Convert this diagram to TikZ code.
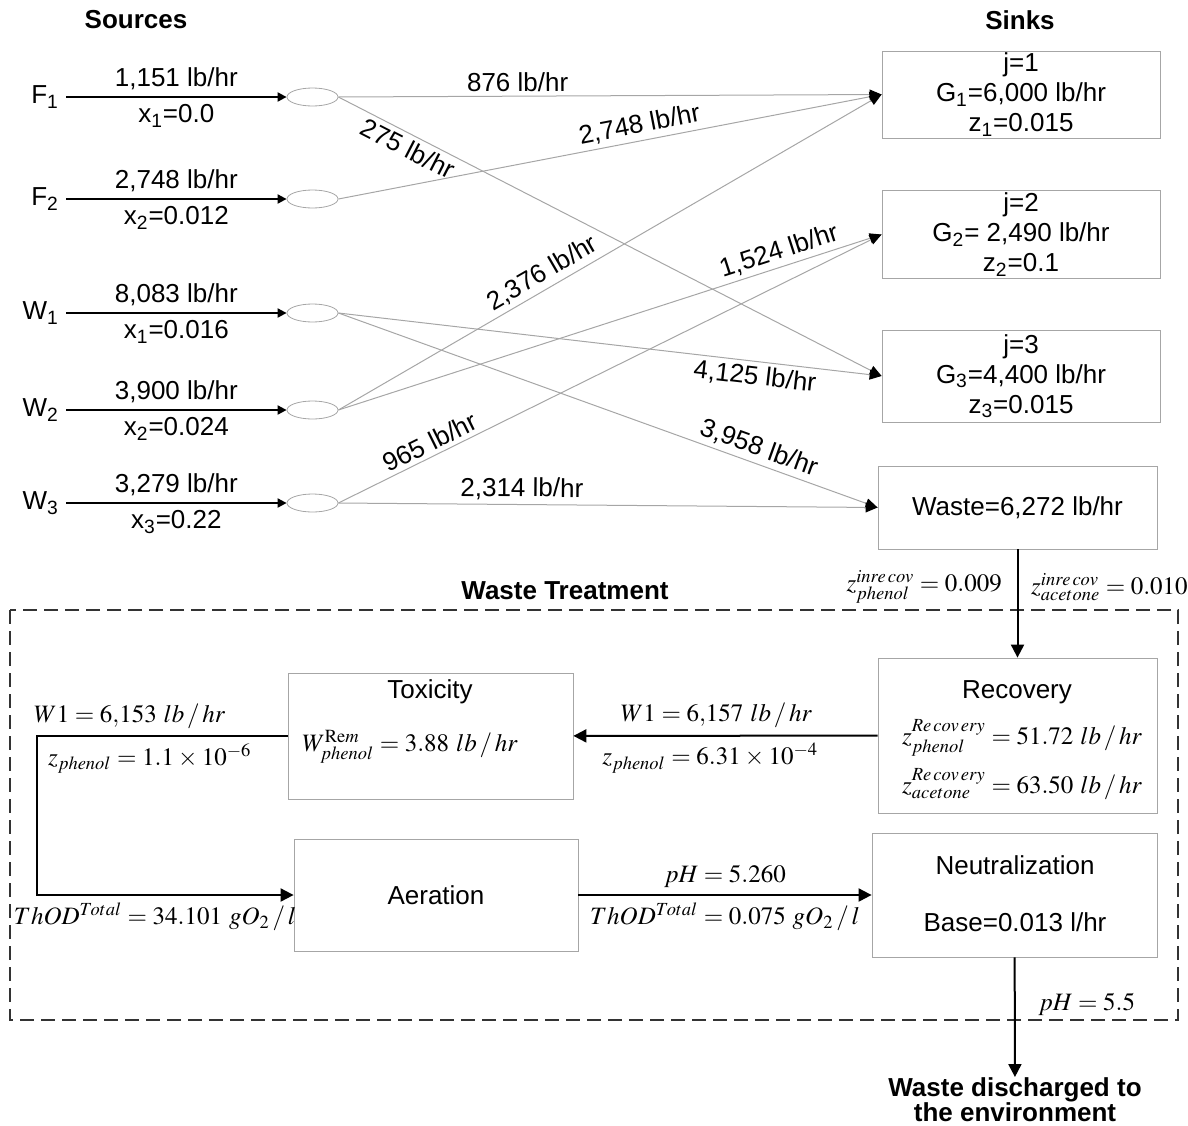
\documentclass[tikz,border=0pt]{standalone}
\usepackage{mathptmx}
\usepackage[no-math]{fontspec}
\setmainfont{Liberation Sans}
\usetikzlibrary{shapes.geometric,arrows.meta}
\thickmuskip=4mu plus 2mu
\medmuskip=3mu plus 1mu
\begin{document}
\begin{tikzpicture}[x=0.5pt,y=-0.5pt,font=\fontsize{13}{15}\selectfont,
    split/.style={shape=ellipse, draw=gray!70, minimum width=25.5pt, minimum height=9pt, inner sep=0pt},
    sink/.style={draw=gray!70, minimum width=139pt, align=center, inner sep=1pt},
    unit/.style={draw=gray!70, align=center},
    head/.style={font=\fontsize{13}{12.5}\selectfont\bfseries, align=center},
    feed/.style={draw, line width=1pt, -{Triangle[length=4.5pt,width=4.5pt]}},
    treat/.style={draw, line width=1pt, -{Triangle[length=6.5pt,width=6.5pt]}},
    flow/.style={draw=gray!70, line width=0.5pt, -{Triangle[length=6pt,width=5pt,color=black]}},
    lbl/.style={sloped, inner sep=2pt},
    mlbl/.style={font=\fontsize{12.5}{15}\selectfont}]
  \useasboundingbox (0,0) rectangle (1188,1125);
  \node[head] (srch) at (136,20) {Sources};
  \node[head] (snkh) at (1020,20) {Sinks};

  \node[anchor=east] (F1) at (66,97) {F\textsubscript{1}};
  \node[anchor=east] (F2) at (66,199) {F\textsubscript{2}};
  \node[anchor=east] (W1) at (66,313) {W\textsubscript{1}};
  \node[anchor=east] (W2) at (66,410) {W\textsubscript{2}};
  \node[anchor=east] (W3) at (66,503) {W\textsubscript{3}};
  \node[split] (sF1) at (312.5,97) {};
  \node[split] (sF2) at (312.5,199) {};
  \node[split] (sW1) at (312.5,313) {};
  \node[split] (sW2) at (312.5,410) {};
  \node[split] (sW3) at (312.5,503) {};

  \draw[feed] (F1) -- (sF1) node[midway,above]{1,151 lb/hr} node[midway,below]{x\textsubscript{1}=0.0};
  \draw[feed] (F2) -- (sF2) node[midway,above]{2,748 lb/hr} node[midway,below]{x\textsubscript{2}=0.012};
  \draw[feed] (W1) -- (sW1) node[midway,above]{8,083 lb/hr} node[midway,below]{x\textsubscript{1}=0.016};
  \draw[feed] (W2) -- (sW2) node[midway,above]{3,900 lb/hr} node[midway,below]{x\textsubscript{2}=0.024};
  \draw[feed] (W3) -- (sW3) node[midway,above]{3,279 lb/hr} node[midway,below]{x\textsubscript{3}=0.22};

  \node[sink, minimum height=42.5pt] (j1) at (1021,94.5) {j=1\\G\textsubscript{1}=6,000 lb/hr\\z\textsubscript{1}=0.015};
  \node[sink, minimum height=43.5pt] (j2) at (1021,234.5) {j=2\\G\textsubscript{2}= 2,490 lb/hr\\z\textsubscript{2}=0.1};
  \node[sink, minimum height=46pt] (j3) at (1021,376) {j=3\\G\textsubscript{3}=4,400 lb/hr\\z\textsubscript{3}=0.015};
  \node[sink, minimum width=139.5pt, minimum height=41.5pt] (waste) at (1017.5,507.5) {Waste=6,272 lb/hr};

  \draw[flow] (sF1.east) -- (j1.west) node[lbl,pos=.33,above]{876 lb/hr};
  \draw[flow] (sF1.east) -- (j3.west) node[lbl,pos=.14,below]{275 lb/hr};
  \draw[flow] (sF2.east) -- (j1.west) node[lbl,pos=.56,above=0pt]{2,748 lb/hr};
  \draw[flow] (sW1.east) -- (j3.west) node[lbl,pos=.77,below]{4,125 lb/hr};
  \draw[flow] (sW1.east) -- (waste.west) node[lbl,pos=.77,above]{3,958 lb/hr};
  \draw[flow] (sW2.east) -- (j1.west) node[lbl,pos=.39,above=0pt]{2,376 lb/hr};
  \draw[flow] (sW2.east) -- (j2.west) node[lbl,pos=.82,above=0pt]{1,524 lb/hr};
  \draw[flow] (sW3.east) -- (j2.west) node[lbl,pos=.18,above=0pt]{965 lb/hr};
  \draw[flow] (sW3.east) -- (waste.west) node[lbl,pos=.34,above]{2,314 lb/hr};

  \draw[black!80, line width=0.7pt, dash pattern=on 7pt off 3.5pt] (10,610) rectangle (1178,1020);
  \node[head] (wth) at (565,591) {Waste Treatment};

  \node[unit, minimum width=139.5pt, minimum height=77.5pt] (rec) at (1017.5,735.5) {};
  \node (rect) at (1017,692) {Recovery};
  \node[mlbl] (recp) at (1022,738) {$z^{Re\,cov\,ery}_{phenol} = 51.72\ lb\,/\,hr$};
  \node[mlbl] (reca) at (1022,784) {$z^{Re\,cov\,ery}_{acetone} = 63.50\ lb\,/\,hr$};
  \node[unit, minimum width=142.5pt, minimum height=63pt] (tox) at (430.5,736) {};
  \node (toxt) at (430,692) {Toxicity};
  \node[mlbl] (toxw) at (410,747) {$W^{\mathrm{Re}m}_{phenol} = 3.88\ lb\,/\,hr$};
  \node[unit, minimum width=142pt, minimum height=56pt] (aer) at (436,895) {Aeration};
  \node[unit, minimum width=142.5pt, minimum height=62pt] (neu) at (1014.5,895) {};
  \node (neut) at (1015,865) {Neutralization};
  \node (neub) at (1015,922) {Base=0.013 l/hr};
  \node[head, anchor=north, inner sep=0pt] (dis) at (1015,1077) {Waste discharged to\\the environment};
  \coordinate (lp1) at (37,736);

  \draw[treat] (waste) -- (rec)
    node[mlbl,pos=.35,left=4pt]{$z^{inre\,cov}_{phenol} = 0.009$}
    node[mlbl,pos=.35,right=3pt]{$z^{inre\,cov}_{acetone} = 0.010$};
  \draw[treat] (rec) -- (tox)
    node[mlbl,pos=.53,above]{$W1 = 6{,}157\ lb\,/\,hr$}
    node[mlbl,pos=.55,below]{$z_{phenol} = 6.31\times10^{-4}$};
  \draw[treat] (tox) -- (lp1)
    node[mlbl,pos=.63,above]{$W1 = 6{,}153\ lb\,/\,hr$}
    node[mlbl,pos=.55,below]{$z_{phenol} = 1.1\times10^{-6}$}
    |- (aer) node[mlbl,pos=.73,below]{$ThOD^{Total} = 34.101\ gO_2\,/\,l$};
  \draw[treat] (aer) -- (neu)
    node[mlbl,midway,above]{$pH = 5.260$}
    node[mlbl,midway,below]{$ThOD^{Total} = 0.075\ gO_2\,/\,l$};
  \draw[treat] (neu) -- (dis) node[mlbl,pos=.39,right=8pt]{$pH = 5.5$};
\end{tikzpicture}
\end{document}
